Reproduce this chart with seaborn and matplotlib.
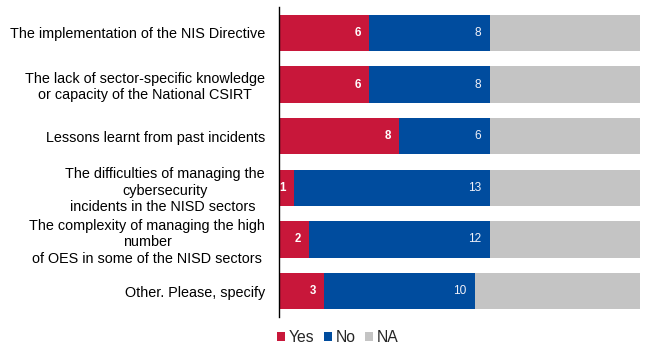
import numpy as np
import pandas as pd
import matplotlib
matplotlib.use("Agg")
import matplotlib.pyplot as plt
import seaborn as sns
from matplotlib.patches import Patch

categories = [
    "The implementation of the NIS Directive",
    "The lack of sector-specific knowledge\nor capacity of the National CSIRT",
    "Lessons learnt from past incidents",
    "The difficulties of managing the\ncybersecurity\nincidents in the NISD sectors ",
    "The complexity of managing the high\nnumber\nof OES in some of the NISD sectors",
    "Other. Please, specify",
]
yes_vals = [6, 6, 8, 1, 2, 3]
no_vals = [8, 8, 6, 13, 12, 10]
na_vals = [10, 10, 10, 10, 10, 11]
series_names = ["Yes", "No", "NA"]
colors = {"Yes": "#C8173A", "No": "#004C9E", "NA": "#C4C4C4"}

sns.set_theme(style="white")
plt.rcParams["font.family"] = ["Liberation Sans", "DejaVu Sans"]

yes = np.array(yes_vals)
no = np.array(no_vals)
na = np.array(na_vals)
df = pd.DataFrame({
    "cat": categories,
    "yes_end": yes,
    "no_end": yes + no,
    "na_end": yes + no + na,
})

fig, ax = plt.subplots(figsize=(6.5, 3.51), dpi=100)
fig.subplots_adjust(left=0.429, right=0.985, top=0.980, bottom=0.097)

for col, name in [("na_end", "NA"), ("no_end", "No"), ("yes_end", "Yes")]:
    sns.barplot(data=df, y="cat", x=col, order=categories, orient="h",
                color=colors[name], saturation=1, width=0.7, ax=ax,
                edgecolor="none", linewidth=0)

for i in range(len(categories)):
    ax.text(yes[i] - 0.55, i, str(yes[i]), ha="right", va="center",
            color="white", fontsize=8.3, fontweight="bold")
    ax.text(yes[i] + no[i] - 0.55, i, str(no[i]), ha="right", va="center",
            color="#F0F0F8", fontsize=8.6)

ax.set_xlim(0, 24)
ax.set_ylim(len(categories) - 0.5, -0.5)
ax.set_xlabel("")
ax.set_ylabel("")
ax.set_xticks([])
for s in ["top", "right", "bottom"]:
    ax.spines[s].set_visible(False)
ax.spines["left"].set_color("black")
ax.spines["left"].set_linewidth(1.0)
ax.tick_params(axis="y", length=0, pad=10, labelsize=10.35, labelcolor="black")
for t in ax.get_yticklabels():
    t.set_multialignment("center")
    t.set_linespacing(1.22)

handles = [Patch(facecolor=colors[n], edgecolor="none") for n in series_names]
fig.legend(handles, series_names, loc="center left",
           bbox_to_anchor=(277 / 650, 1 - 338 / 351), ncol=3, frameon=False,
           fontsize=11.3, handlelength=0.5, handleheight=0.5,
           handletextpad=0.25, columnspacing=0.6, borderaxespad=0, borderpad=0)

fig.savefig("out.png", dpi=100)
